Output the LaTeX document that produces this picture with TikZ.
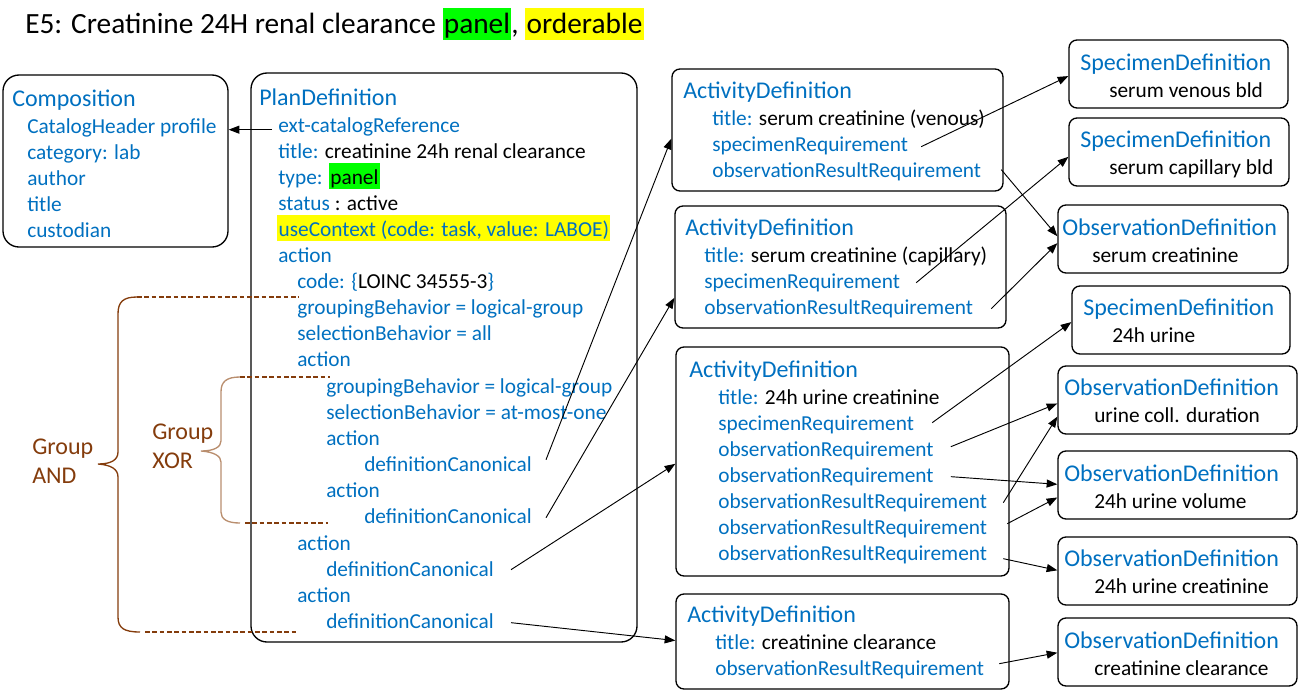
\documentclass[tikz,border=0pt]{standalone}
\usepackage{fontspec}
\setmainfont{Carlito}
\usetikzlibrary{arrows.meta,calc,fit}
\definecolor{fblue}{HTML}{0070C0}
\definecolor{gbrown}{HTML}{843C0C}
\definecolor{xbrown}{HTML}{B98E6E}
\definecolor{hlgreen}{HTML}{00FF00}
\definecolor{hlyellow}{HTML}{FFFF00}
\newcommand\blk[1]{\textcolor{black}{#1}}
\newcommand\hlbox[2]{{\setlength{\fboxsep}{1pt}\colorbox{#1}{\rule[-3.1pt]{0pt}{17.5pt}#2}}}
\begin{document}
\begin{tikzpicture}[x=0.75pt,y=-0.75pt,
 txt/.style={anchor=base west, inner sep=0pt, text height=11pt, text depth=3pt, font=\fontsize{16}{19}\selectfont},
 key/.style={txt, text=fblue},
 hdr/.style={anchor=base west, inner sep=0pt, font=\fontsize{18}{22}\selectfont, text=fblue},
 grp/.style={anchor=base west, inner sep=0pt, font=\fontsize{18}{22}\selectfont, text=gbrown},
 bigbox/.style={draw, line width=1pt, rounded corners=12pt, inner sep=0pt},
 box/.style={draw, line width=1pt, rounded corners=6pt, inner sep=0pt},
 arr/.style={-{Triangle[length=8pt,width=6pt]}, line width=0.7pt},
 brace/.style={line width=1pt},
 dsh/.style={line width=0.8pt, dash pattern=on 3.5pt off 2pt}
]
\useasboundingbox (0,0) rectangle (1299,697);

% title
\node[anchor=base west, inner sep=0pt, font=\fontsize{22}{26}\selectfont] (title) at (25,33)
 {E5: Creatinine 24H renal clearance {\setlength{\fboxsep}{1pt}\colorbox{hlgreen}{\rule[-4pt]{0pt}{21.5pt}panel}}, {\setlength{\fboxsep}{1pt}\colorbox{hlyellow}{\rule[-4pt]{0pt}{21.5pt}orderable}}};

% boxes
\node[bigbox, fit={(3,75) (228,247)}] (comp) {};
\node[bigbox, fit={(251,73) (637,642)}] (pd) {};
\node[box, fit={(672,69) (1003,191)}] (ad1) {};
\node[box, fit={(675,206) (1006,328)}] (ad2) {};
\node[box, fit={(676,347) (1009,576)}] (ad3) {};
\node[box, fit={(676,594) (1009,689)}] (ad4) {};
\node[box, fit={(1069,40) (1288,108)}] (sd1) {};
\node[box, fit={(1069,118) (1289,186)}] (sd2) {};
\node[box, fit={(1058,205) (1288,273)}] (odsc) {};
\node[box, fit={(1072,286) (1290,354)}] (sdu) {};
\node[box, fit={(1058,366) (1297,434)}] (oduc) {};
\node[box, fit={(1058,451) (1297,519)}] (odv) {};
\node[box, fit={(1058,537) (1297,605)}] (odc) {};
\node[box, fit={(1058,618) (1297,686)}] (odcl) {};

% Composition
\node[hdr] (comph) at (12,106) {Composition};
\node[key] (comp1) at (27,133) {CatalogHeader profile};
\node[key] (comp2) at (27,159) {category: lab};
\node[key] (comp3) at (27,185) {author};
\node[key] (comp4) at (27,211) {title};
\node[key] (comp5) at (27,237) {custodian};

% PlanDefinition
\node[hdr] (pdh) at (259,105) {PlanDefinition};
\node[key] (pdext) at (278,132) {ext-catalogReference};
\node[key] (pdtitle) at (278,158) {title: \blk{creatinine 24h renal clearance}};
\node[key] (pdtype) at (278,184) {type: \hlbox{hlgreen}{\blk{panel}}};
\node[key] (pdstatus) at (278,210) {status \blk{: active}};
\node[key] (pduse) at (277,236) {\hlbox{hlyellow}{useContext (code: task, value: LABOE)}};
\node[key] (pda) at (278,262) {action};
\node[key] (pdcode) at (297,288) {code: \{\blk{LOINC 34555-3}\}};
\node[key] (pdg1) at (297,314) {groupingBehavior = logical-group};
\node[key] (pds1) at (297,340) {selectionBehavior = all};
\node[key] (pda1) at (297,366) {action};
\node[key] (pdg2) at (326,393) {groupingBehavior = logical-group};
\node[key] (pds2) at (326,419) {selectionBehavior = at-most-one};
\node[key] (pda2) at (326,445) {action};
\node[key] (pdc1) at (364,471) {definitionCanonical};
\node[key] (pda3) at (326,497) {action};
\node[key] (pdc2) at (364,523) {definitionCanonical};
\node[key] (pda4) at (297,550) {action};
\node[key] (pdc3) at (326,576) {definitionCanonical};
\node[key] (pda5) at (297,602) {action};
\node[key] (pdc4) at (326,628) {definitionCanonical};

% ActivityDefinition 1
\node[hdr] (ad1h) at (683,98) {ActivityDefinition};
\node[key] (ad1t) at (712,125) {title: \blk{serum creatinine (venous)}};
\node[key] (ad1s) at (712,151) {specimenRequirement};
\node[key] (ad1r) at (712,177) {observationResultRequirement};
% ActivityDefinition 2
\node[hdr] (ad2h) at (685,235) {ActivityDefinition};
\node[key] (ad2t) at (704,262) {title: \blk{serum creatinine (capillary)}};
\node[key] (ad2s) at (704,288) {specimenRequirement};
\node[key] (ad2r) at (704,314) {observationResultRequirement};
% ActivityDefinition 3
\node[hdr] (ad3h) at (689,377) {ActivityDefinition};
\node[key] (ad3t) at (718,404) {title: \blk{24h urine creatinine}};
\node[key] (ad3s) at (718,430) {specimenRequirement};
\node[key] (ad3o1) at (718,456) {observationRequirement};
\node[key] (ad3o2) at (718,482) {observationRequirement};
\node[key] (ad3r1) at (718,508) {observationResultRequirement};
\node[key] (ad3r2) at (718,534) {observationResultRequirement};
\node[key] (ad3r3) at (718,560) {observationResultRequirement};
% ActivityDefinition 4
\node[hdr] (ad4h) at (687,622) {ActivityDefinition};
\node[key] (ad4t) at (715,649) {title: \blk{creatinine clearance}};
\node[key] (ad4r) at (715,675) {observationResultRequirement};

% Specimen / Observation definitions
\node[hdr] (sd1h) at (1080,70) {SpecimenDefinition};
\node[txt] (sd1t) at (1109,97) {serum venous bld};
\node[hdr] (sd2h) at (1080,147) {SpecimenDefinition};
\node[txt] (sd2t) at (1109,174) {serum capillary bld};
\node[hdr] (odsch) at (1062,235) {ObservationDefinition};
\node[txt] (odsct) at (1092,262) {serum creatinine};
\node[hdr] (sduh) at (1083,315) {SpecimenDefinition};
\node[txt] (sdut) at (1112,342) {24h urine};
\node[hdr] (oduch) at (1064,395) {ObservationDefinition};
\node[txt] (oduct) at (1094,422) {urine coll. duration};
\node[hdr] (odvh) at (1064,481) {ObservationDefinition};
\node[txt] (odvt) at (1094,508) {24h urine volume};
\node[hdr] (odch) at (1064,566) {ObservationDefinition};
\node[txt] (odct) at (1094,593) {24h urine creatinine};
\node[hdr] (odclh) at (1064,648) {ObservationDefinition};
\node[txt] (odclt) at (1094,675) {creatinine clearance};

% group labels
\node[grp] (gand1) at (32,454) {Group};
\node[grp] (gand2) at (32,483) {AND};
\node[grp] (gxor1) at (152,439) {Group};
\node[grp] (gxor2) at (152,468) {XOR};

% braces
\draw[brace, gbrown] (137,297) .. controls (123,297) and (118,302) .. (118,314) -- (118,452)
  .. controls (118,460) and (111,464) .. (98,464) .. controls (111,465) and (118,469) .. (118,477)
  -- (118,617) .. controls (118,628) and (124,632) .. (140,632);
\draw[dsh, gbrown] (137,297) -- (299,297);
\draw[dsh, gbrown] (145,632) -- (297,632);
\draw[brace, xbrown] (240,377) .. controls (226,377) and (221,382) .. (221,392) -- (221,441)
  .. controls (221,447) and (214,451) .. (201,451) .. controls (214,452) and (221,456) .. (221,462)
  -- (221,512) .. controls (221,519) and (227,523) .. (240,523);
\draw[dsh, gbrown] (240,377) -- (330,377);
\draw[dsh, gbrown] (245,523) -- (328,523);

% connectors
\draw[arr] ($(pdext.west)+(-6,3)$) -- ($(comp.east |- pdext.west)+(0,3)$);
\draw[arr] ($(pdc1.east)+(14,-6)$) -- ($(ad1.north west)!0.57!(ad1.south west)$);
\draw[arr] ($(pdc2.east)+(14,0)$) -- ($(ad2.north west)!0.75!(ad2.south west)$);
\draw[arr] ($(pdc3.east)+(17,-1)$) -- ($(ad3.north west)!0.51!(ad3.south west)$);
\draw[arr] ($(pdc4.east)+(17,0)$) -- ($(ad4.north west)!0.49!(ad4.south west)$);

\draw[arr] ($(ad1s.east)+(13,1)$) -- ($(sd1.north west)!0.53!(sd1.south west)$);
\draw[arr] ($(ad1r.east)+(20,-2)$) -- ($(odsc.north west)!0.46!(odsc.south west)$);
\draw[arr] ($(ad2s.east)+(16,0)$) -- ($(sd2.north west)!0.57!(sd2.south west)$);
\draw[arr] ($(ad2r.east)+(18,0)$) -- ($(odsc.north west)!0.56!(odsc.south west)$);

\draw[arr] ($(ad3s.east)+(18,-2)$) -- ($(sdu.north west)!0.53!(sdu.south west)$);
\draw[arr] ($(ad3o1.east)+(17,-4)$) -- ($(oduc.north west)!0.55!(oduc.south west)$);
\draw[arr] ($(ad3o2.east)+(17,0)$) -- ($(odv.north west)!0.49!(odv.south west)$);
\draw[arr] ($(ad3r1.east)+(16,0)$) -- ($(oduc.north west)!0.74!(oduc.south west)$);
\draw[arr] ($(ad3r2.east)+(20,-5)$) -- ($(odv.north west)!0.68!(odv.south west)$);
\draw[arr] ($(ad3r3.east)+(16,4)$) -- ($(odc.north west)!0.49!(odc.south west)$);
\draw[arr] ($(ad4r.east)+(15,-6)$) -- ($(odcl.north west)!0.51!(odcl.south west)$);
\end{tikzpicture}
\end{document}
